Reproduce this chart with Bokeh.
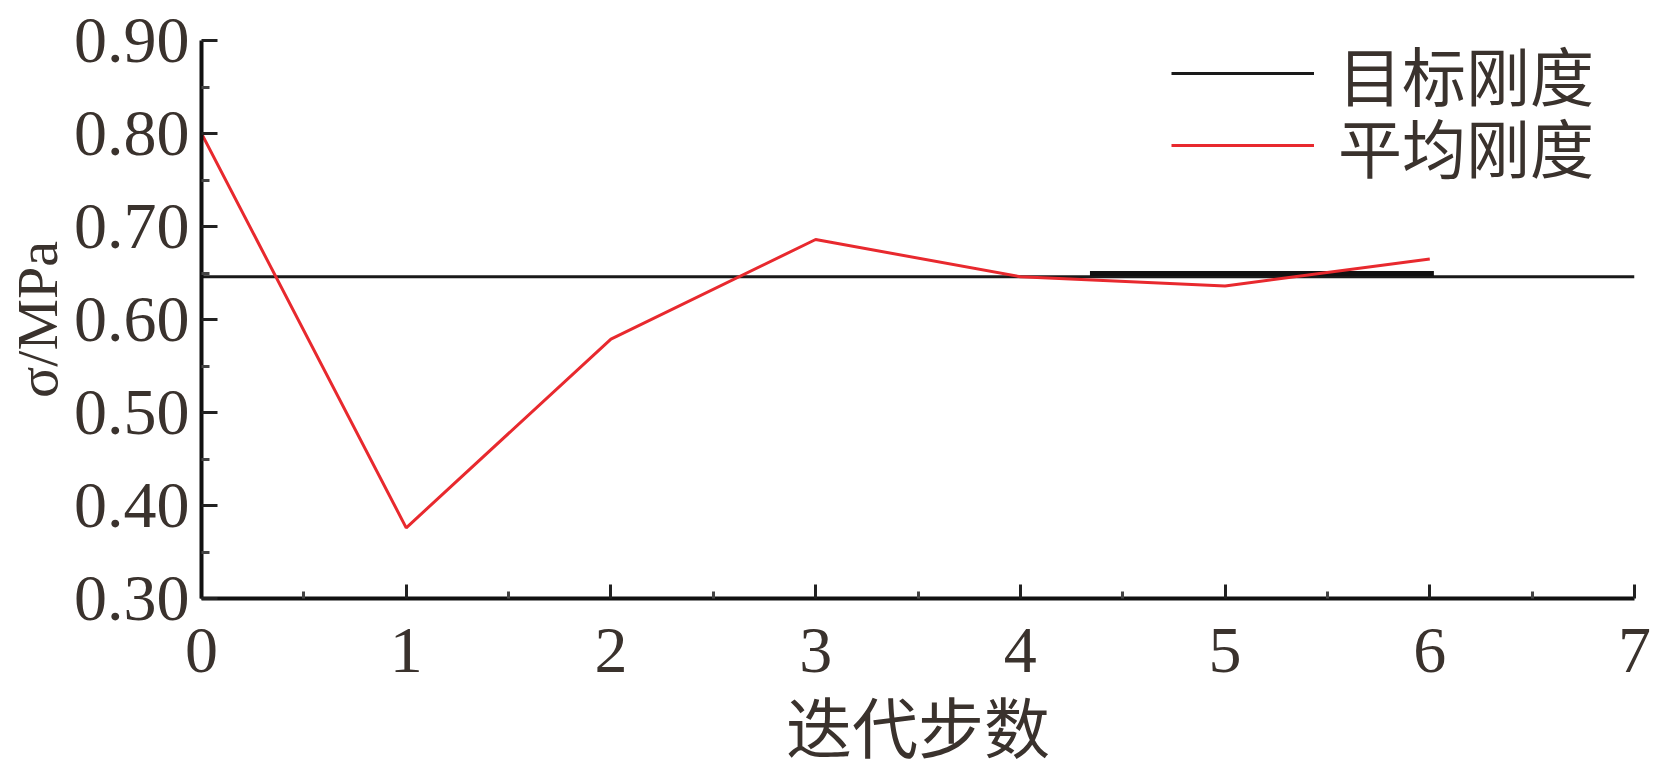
from bokeh.plotting import figure
from bokeh.models import Legend, LegendItem, FixedTicker, Range1d
from bokeh.embed import file_html
from bokeh.resources import INLINE

# ---- data ----
steps = [0, 1, 2, 3, 4, 5, 6]
avg_stiffness = [0.800, 0.376, 0.579, 0.686, 0.646, 0.636, 0.665]
target_stiffness = 0.646
# thicker black patch lying on the target line in the original figure
patch_x = [4.34, 6.02]
patch_y = [0.6495, 0.6495]
x_ticks = [0, 1, 2, 3, 4, 5, 6, 7]
y_ticks = [0.30, 0.40, 0.50, 0.60, 0.70, 0.80, 0.90]
y_tick_labels = {0.3: "0.30", 0.4: "0.40", 0.5: "0.50", 0.6: "0.60",
                 0.7: "0.70", 0.8: "0.80", 0.9: "0.90"}
x_label = "迭代步数"
y_label = "σ/MPa"
legend_labels = ["目标刚度", "平均刚度"]

SERIF = "Liberation Serif, 'Noto Sans CJK SC'"
CJK = "'Noto Sans CJK SC'"
TXT = "#3a322d"

W, H = 1654, 780
LEFT, RIGHT, TOP, BOTTOM = 201, 20, 40, 182

p = figure(width=W, height=H,
           x_range=Range1d(x_ticks[0], x_ticks[-1]),
           y_range=Range1d(y_ticks[0], y_ticks[-1]),
           output_backend="svg", toolbar_location=None,
           min_border_left=LEFT, min_border_top=TOP, min_border_right=RIGHT,
           min_border_bottom=BOTTOM)
p.outline_line_color = None
p.grid.visible = False

xmin, xmax = x_ticks[0], x_ticks[-1]
r_target = p.line([xmin, xmax], [target_stiffness, target_stiffness],
                  line_color="#1a1a1a", line_width=3)
p.line(patch_x, patch_y, line_color="#111111", line_width=5)
r_avg = p.line(steps, avg_stiffness, line_color="#e8292e", line_width=3)

# axes
for ax in (p.xaxis[0], p.yaxis[0]):
    ax.axis_line_width = 4
    ax.axis_line_color = "#111111"
    ax.major_tick_line_width = 3
    ax.minor_tick_line_width = 3
    ax.major_tick_line_color = "#222222"
    ax.minor_tick_line_color = "#444444"
    ax.major_tick_out = 0
    ax.minor_tick_out = 0
    ax.major_label_text_font = SERIF
    ax.major_label_text_font_size = "66px"
    ax.major_label_text_color = TXT
    ax.axis_label_text_color = TXT
    ax.axis_label_text_font_style = "normal"

p.xaxis.ticker = FixedTicker(ticks=x_ticks,
                             minor_ticks=[t + 0.5 for t in x_ticks[:-1]])
p.xaxis.major_tick_in = 14
p.xaxis.minor_tick_in = 7
p.xaxis.major_label_standoff = 30
p.xaxis.axis_label = x_label
p.xaxis.axis_label_text_font = CJK
p.xaxis.axis_label_text_font_size = "66px"
p.xaxis.axis_label_standoff = 1

p.yaxis.ticker = FixedTicker(ticks=y_ticks,
                             minor_ticks=[round(t + 0.05, 2) for t in y_ticks[:-1]])
p.yaxis.major_label_overrides = y_tick_labels
p.yaxis.major_tick_in = 16
p.yaxis.minor_tick_in = 8
p.yaxis.major_label_standoff = 12
p.yaxis.axis_label = y_label
p.yaxis.axis_label_text_font = SERIF
p.yaxis.axis_label_text_font_size = "58px"
p.yaxis.axis_label_standoff = 1

common = dict(orientation="vertical", glyph_width=143, glyph_height=74,
              label_height=74, label_standoff=24,
              label_text_font=CJK, label_text_font_size="64px",
              label_text_color=TXT, spacing=0, padding=0, margin=0,
              border_line_alpha=0, background_fill_alpha=0)
leg1 = Legend(items=[LegendItem(label=legend_labels[0], renderers=[r_target])],
              location=(970, 479), **common)
leg2 = Legend(items=[LegendItem(label=legend_labels[1], renderers=[r_avg])],
              location=(970, 407), **common)
p.add_layout(leg1)
p.add_layout(leg2)

open("out.html", "w").write(file_html(p, INLINE))
